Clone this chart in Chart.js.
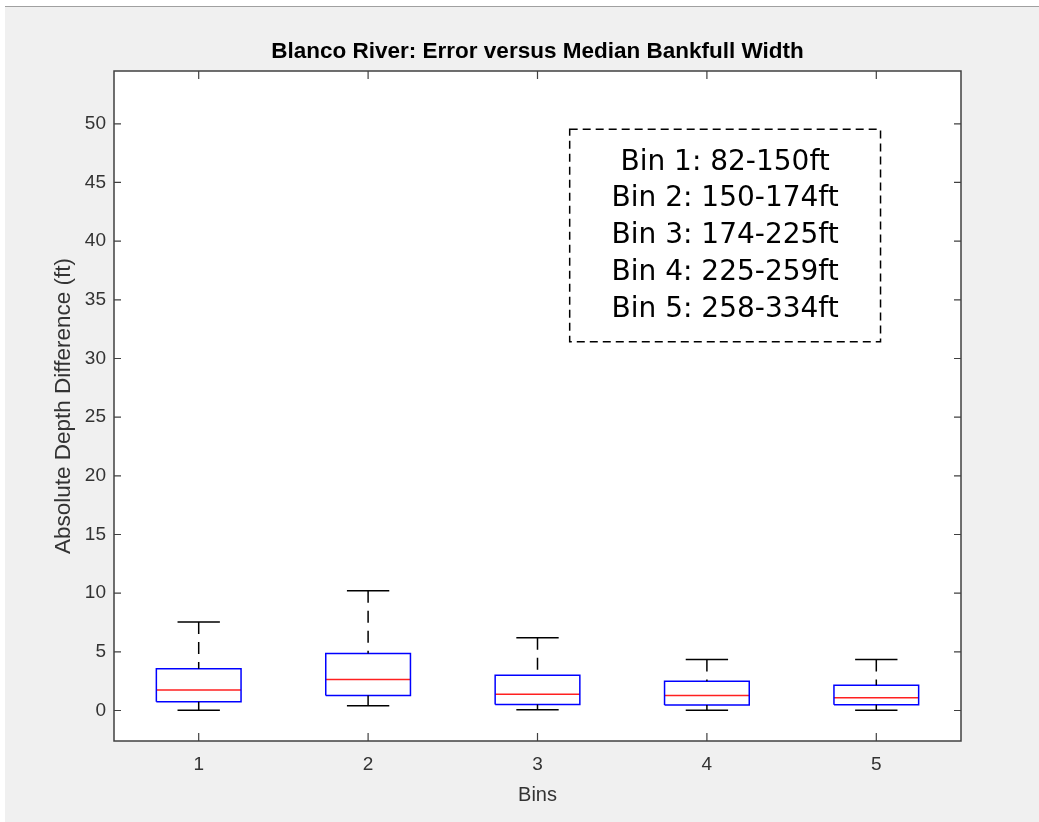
<!DOCTYPE html>
<html>
<head>
<meta charset="utf-8">
<script src="https://cdn.jsdelivr.net/npm/chart.js@4.4.1/dist/chart.umd.min.js"></script>
<style>
  body { margin: 0; background: #ffffff; }
  #frame { position: absolute; left: 5px; top: 6px; width: 1034px; height: 816px; background: #f0f0f0; border-top: 1px solid #a0a0a0; }
  #wrap { position: absolute; left: 0; top: 0; width: 1039px; height: 822px; }
</style>
</head>
<body>
<div id="frame"></div>
<div id="wrap"><canvas id="box"></canvas></div>
<script>
// boxplot values (ft)
const bins = [1, 2, 3, 4, 5]
const upperWhisker = [7.55, 10.2, 6.2, 4.35, 4.35]
const q3 = [3.55, 4.85, 3.0, 2.5, 2.15]
const median = [1.75, 2.65, 1.38, 1.28, 1.08]
const q1 = [0.75, 1.28, 0.52, 0.46, 0.5]
const lowerWhisker = [0.02, 0.4, 0.06, 0.02, 0.02]
const yTicks = [0, 5, 10, 15, 20, 25, 30, 35, 40, 45, 50]
const binLabels = ['Bin 1: 82-150ft', 'Bin 2: 150-174ft', 'Bin 3: 174-225ft', 'Bin 4: 225-259ft', 'Bin 5: 258-334ft']
const chartTitle = 'Blanco River: Error versus Median Bankfull Width'

const boxHalf = 0.25
const capHalf = 0.125
const axisColor = '#404040'

function gap(x) { return {x: x, y: null} }

var whiskers = [], caps = [], boxes = [], medians = []
for (let i = 0; i < bins.length; i++) {
    const x = bins[i]
    whiskers.push({x: x, y: upperWhisker[i]}, {x: x, y: q3[i]}, gap(x))
    whiskers.push({x: x, y: lowerWhisker[i]}, {x: x, y: q1[i]}, gap(x))
    caps.push({x: x - capHalf, y: upperWhisker[i]}, {x: x + capHalf, y: upperWhisker[i]}, gap(x))
    caps.push({x: x - capHalf, y: lowerWhisker[i]}, {x: x + capHalf, y: lowerWhisker[i]}, gap(x))
    boxes.push({x: x - boxHalf, y: q1[i]}, {x: x + boxHalf, y: q1[i]}, {x: x + boxHalf, y: q3[i]},
        {x: x - boxHalf, y: q3[i]}, {x: x - boxHalf, y: q1[i]}, gap(x))
    medians.push({x: x - boxHalf, y: median[i]}, {x: x + boxHalf, y: median[i]}, gap(x))
}

function lineSet(data, color, dash) {
    return {data: data, showLine: true, borderColor: color, borderWidth: 1.5, borderDash: dash || [],
        pointRadius: 0, pointHoverRadius: 0, spanGaps: false, fill: false}
}

// white axes area, title, box frame with inward ticks, and the bin legend box
const matlabAxes = {
    id: 'matlabAxes',
    beforeDraw(chart) {
        const a = chart.chartArea, c = chart.ctx
        c.save()
        c.fillStyle = '#ffffff'
        c.fillRect(a.left, a.top, a.right - a.left, a.bottom - a.top)
        c.fillStyle = '#000000'
        c.font = 'bold 22.5px "Liberation Sans"'
        c.textAlign = 'center'
        c.textBaseline = 'middle'
        c.fillText(chartTitle, (a.left + a.right) / 2, 52)
        c.restore()
    },
    afterDraw(chart) {
        const a = chart.chartArea, c = chart.ctx
        const xs = chart.scales.x, ys = chart.scales.y
        c.save()
        c.strokeStyle = axisColor
        c.lineWidth = 1.5
        c.strokeRect(a.left, a.top, a.right - a.left, a.bottom - a.top)
        c.lineWidth = 1.2
        c.beginPath()
        xs.ticks.forEach(t => {
            const px = xs.getPixelForValue(t.value)
            c.moveTo(px, a.bottom); c.lineTo(px, a.bottom - 8)
            c.moveTo(px, a.top); c.lineTo(px, a.top + 8)
        })
        ys.ticks.forEach(t => {
            const py = ys.getPixelForValue(t.value)
            c.moveTo(a.left, py); c.lineTo(a.left + 7, py)
            c.moveTo(a.right, py); c.lineTo(a.right - 7, py)
        })
        c.stroke()

        // legend box
        const w = a.right - a.left, h = a.bottom - a.top
        const bx = a.left + w * 0.538, by = a.top + h * 0.087
        const bw = w * 0.367, bh = h * 0.317
        c.fillStyle = '#ffffff'
        c.fillRect(bx, by, bw, bh)
        c.strokeStyle = '#000000'
        c.lineWidth = 1.5
        c.setLineDash([8, 5])
        c.strokeRect(bx, by, bw, bh)
        c.setLineDash([])
        c.fillStyle = '#000000'
        c.font = '28px "DejaVu Sans"'
        c.textAlign = 'center'
        c.textBaseline = 'alphabetic'
        binLabels.forEach((s, i) => {
            c.fillText(s, bx + bw / 2, by + 40.5 + i * 36.7)
        })
        c.restore()
    }
}

const ctx = document.getElementById('box').getContext('2d')
const myChart = new Chart(ctx, {
    type: 'scatter',
    data: {
        datasets: [
            lineSet(whiskers, '#000000', [12, 8]),
            lineSet(caps, '#000000'),
            lineSet(boxes, '#0000ff'),
            lineSet(medians, '#ff2020')
        ]
    },
    options: {
        responsive: true,
        maintainAspectRatio: false,
        animation: false,
        events: [],
        layout: {padding: {top: 71, right: 78, left: 0, bottom: 0}},
        plugins: {
            legend: {display: false},
            tooltip: {enabled: false},
            title: {display: false}
        },
        scales: {
            x: {
                type: 'linear',
                min: 0.5,
                max: 5.5,
                grid: {display: false, drawTicks: false},
                border: {display: false},
                afterBuildTicks: scale => { scale.ticks = bins.map(v => ({value: v})) },
                afterFit: scale => { scale.height = 81 },
                ticks: {color: '#333333', padding: 12, font: {family: 'Liberation Sans', size: 19},
                    maxRotation: 0, autoSkip: false},
                title: {display: true, text: 'Bins', color: '#333333',
                    font: {family: 'Liberation Sans', size: 20}, padding: {top: 0, bottom: 15}}
            },
            y: {
                type: 'linear',
                min: -2.6,
                max: 54.5,
                grid: {display: false, drawTicks: false},
                border: {display: false},
                afterBuildTicks: scale => { scale.ticks = yTicks.map(v => ({value: v})) },
                afterFit: scale => { scale.width = 114 },
                ticks: {color: '#333333', padding: 8, font: {family: 'Liberation Sans', size: 19}},
                title: {display: true, text: 'Absolute Depth Difference (ft)', color: '#333333',
                    font: {family: 'Liberation Sans', size: 22.5}, padding: {top: 50, bottom: 0}}
            }
        }
    },
    plugins: [matlabAxes]
})
</script>
</body>
</html>
